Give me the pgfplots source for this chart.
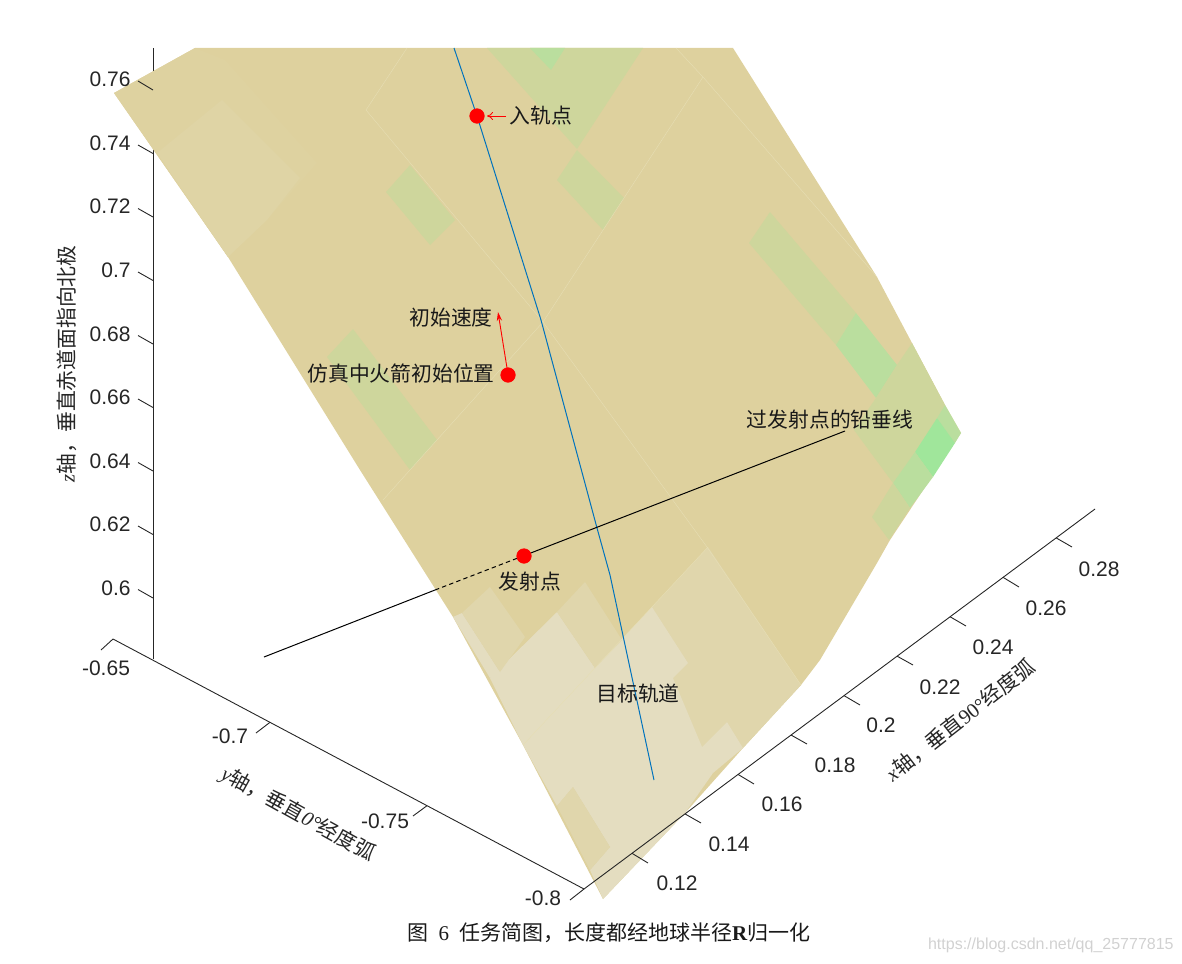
\documentclass[border=0pt]{standalone}
\usepackage{fontspec}
\usepackage{pgfplots}
\pgfplotsset{compat=1.18}
\usetikzlibrary{arrows.meta}
\setmainfont{Liberation Serif}
\newfontfamily\cjk{Noto Sans CJK SC}
\newfontfamily\hel{Liberation Sans}
\definecolor{base}{RGB}{222,209,158}
\definecolor{gA}{RGB}{206,214,156}
\definecolor{gB}{RGB}{186,222,158}
\definecolor{gC}{RGB}{160,230,155}
\definecolor{lA}{RGB}{228,221,192}
\definecolor{lB}{RGB}{224,214,172}
\definecolor{lC}{RGB}{222,210,160}
\definecolor{lD}{RGB}{223,212,165}
\definecolor{seam}{RGB}{231,223,182}
\definecolor{axc}{RGB}{38,38,38}
\definecolor{mblue}{RGB}{0,114,189}
\newcommand{\patch}[2]{\addplot[fill=#1,draw=none,mark=none,forget plot] coordinates {#2};}
\newcommand{\seam}[1]{\addplot[seam,line width=0.18pt,mark=none,forget plot] coordinates {#1};}
\newcommand{\tk}[1]{\addplot[axc,line width=0.45pt,mark=none,forget plot] coordinates {#1};}
\newcommand{\tl}[2]{\node[font=\hel\fontsize{10.5}{12}\selectfont,text=axc,inner sep=0pt] at (axis cs:#1) {#2};}
\newcommand{\zl}[2]{\node[font=\hel\fontsize{10.5}{12}\selectfont,text=axc,inner sep=0pt,anchor=east] at (axis cs:#1) {#2};}
\newcommand{\cn}[2]{\node[font=\cjk\fontsize{10.4}{12}\selectfont,text=black!90,inner sep=0pt] at (axis cs:#1) {#2};}
\newcommand{\lat}[1]{{\rmfamily\itshape #1}}
\begin{document}
\begin{tikzpicture}
\begin{axis}[
    hide axis,
    scale only axis,
    width=591pt, height=481.5pt,
    xmin=0, xmax=1182,
    ymin=0, ymax=963,
    y dir=reverse,
    clip=false,
]
% keeps the page at the full frame
\addplot[draw=none,mark=none,forget plot] coordinates {(0,0)(1182,963)};
% z axis sits behind the surface
\tk{(153,48)(153,659)}

% surface
\patch{base}{(195,48)(114,93)(228,257)(360,470)(453,617)(523,745)(603,899)(685,813)(743,748)(801,685)(820,660)(877,563)(890,540)(961,433)(945,405)(912,343)(877,277)(733,48)}
\patch{lC}{(114,93)(195,48)(225,60)(317,163)(267,220)(228,257)}
\patch{lD}{(157,153)(222,100)(300,178)(267,220)(228,257)}
% green cells
\patch{gA}{(410,165)(455,220)(430,245)(386,192)}
\patch{gA}{(353,329)(437,440)(410,470)(327,357)}
\patch{gA}{(487,48)(643,48)(577,149)}
\patch{gB}{(530,48)(565,48)(551,70)}
\patch{gA}{(577,150)(624,198)(603,230)(557,180)}
\patch{gA}{(770,212)(856,313)(836,345)(749,243)}
\patch{gB}{(856,313)(897,365)(876,398)(836,345)}
\patch{gA}{(912,343)(945,405)(915,452)(893,483)(854,430)(876,398)(897,365)}
\patch{gB}{(945,405)(961,433)(955,443)(937,418)}
\patch{gC}{(937,418)(955,443)(933,477)(915,452)}
\patch{gB}{(915,452)(933,477)(910,508)(893,483)}
\patch{gA}{(893,483)(910,508)(889,540)(872,517)}
% pale cells, lower part
\patch{lB}{(652,607)(708,547)(801,685)(743,748)(727,722)(697,752)(673,678)(688,663)}
\patch{lA}{(697,752)(727,722)(743,748)(713,773)}
\patch{lA}{(523,745)(652,607)(688,663)(673,678)(713,773)(685,813)(603,899)(590,870)(610,847)(573,787)(557,806)}
\patch{lB}{(573,787)(610,847)(590,870)(557,806)}
\patch{lA}{(557,612)(595,668)(523,745)(490,678)}
\patch{lA}{(453,617)(462,613)(500,672)(490,678)}
\patch{lB}{(462,613)(490,587)(525,637)(500,672)}
\patch{lB}{(557,612)(585,582)(622,640)(595,668)}
% seams
\seam{(407,48)(366,110)(543,322)(707,547)(801,685)}
\seam{(543,322)(703,77)(877,277)}
\seam{(676,48)(703,77)}
\seam{(543,322)(383,500)}
\seam{(708,547)(523,745)}

% y axis
\tk{(113,639)(584,889)}
\tk{(113,639)(101,650)}
\tk{(270,722.3)(256,733)}
\tk{(427,805.7)(413,816)}
\tk{(584,889)(570,900)}
% x axis
\tk{(584,889)(1095,509)}
\tk{(632,853.3)(648,863)}
\tk{(685,813.9)(701,823)}
\tk{(738,774.4)(754,784)}
\tk{(791,735)(807,744)}
\tk{(844,695.6)(860,705)}
\tk{(897,656.1)(913,665)}
\tk{(950,616.7)(966,626)}
\tk{(1003,577.3)(1019,587)}
\tk{(1056,537.8)(1072,547)}
% z ticks
\tk{(153,90)(138,81)}
\tk{(153,153.5)(138,145)}
\tk{(153,217)(138,208.5)}
\tk{(153,280.5)(138,272)}
\tk{(153,344)(138,335.5)}
\tk{(153,407.5)(138,399)}
\tk{(153,471)(138,462.5)}
\tk{(153,534.5)(138,526)}
\tk{(153,598)(138,589.5)}

% target orbit
\addplot[mblue,line width=0.5pt,mark=none,forget plot] coordinates {(454,48)(477,116)(541,320)(597,528)(610,575)(654,780)};
% plumb line through launch point
\addplot[black,line width=0.5pt,mark=none,forget plot] coordinates {(264,657)(435,590)};
\addplot[black,line width=0.5pt,mark=none,forget plot,dash pattern=on 2.2pt off 1.6pt] coordinates {(435,590)(523,556)};
\addplot[black,line width=0.5pt,mark=none,forget plot] coordinates {(523,556)(845,431)};
% velocity and insertion arrows
\addplot[red,line width=0.45pt,mark=none,forget plot,-{Stealth[length=4.5pt,width=2.6pt]}] coordinates {(507,368)(498,312)};
\addplot[red,line width=0.4pt,mark=none,forget plot,-{To[length=3pt,width=4pt]}] coordinates {(506,116)(487,116)};
% points
\addplot[only marks,mark=*,mark size=3.6pt,red,mark options={draw=red,fill=red},forget plot] coordinates {(477,116)(508,375)(524,556)};
\addplot[black,line width=0.5pt,mark=none,forget plot] coordinates {(520.5,557)(525,555.5)};

% tick labels
\zl{131,79}{0.76}
\zl{131,143}{0.74}
\zl{131,206}{0.72}
\zl{131,270}{0.7}
\zl{131,334}{0.68}
\zl{131,397}{0.66}
\zl{131,461}{0.64}
\zl{131,524}{0.62}
\zl{131,588}{0.6}
\tl{106,668}{-0.65}
\tl{230,736}{-0.7}
\tl{385,821}{-0.75}
\tl{543,898}{-0.8}
\tl{677,883}{0.12}
\tl{729,844}{0.14}
\tl{782,804}{0.16}
\tl{835,765}{0.18}
\tl{881,725}{0.2}
\tl{940,687}{0.22}
\tl{993,647}{0.24}
\tl{1046,608}{0.26}
\tl{1099,569}{0.28}

% annotations
\cn{541,116}{入轨点}
\cn{451,318}{初始速度}
\cn{401,374}{仿真中火箭初始位置}
\cn{530,582}{发射点}
\cn{638,694}{目标轨道}
\cn{830,420}{过发射点的铅垂线}

% axis labels
\node[font=\cjk\fontsize{10.4}{12}\selectfont,text=axc,inner sep=0pt,rotate=90] at (axis cs:67,364) {\lat{z}轴，垂直赤道面指向北极};
\node[font=\cjk\fontsize{10.3}{12}\selectfont,text=axc,inner sep=0pt,rotate=-29] at (axis cs:298,814) {\lat{y}轴，垂直\lat{0°}经度弧};
\node[font=\cjk\fontsize{10.3}{12}\selectfont,text=axc,inner sep=0pt,rotate=38] at (axis cs:960,720) {\lat{x}轴，垂直{\rmfamily 90°}经度弧};

% caption and watermark
\node[font=\cjk\fontsize{10.5}{12}\selectfont,text=black!90,inner sep=0pt] at (axis cs:609,933) {图\hspace{5pt}{\rmfamily 6}\hspace{5pt}任务简图，长度都经地球半径{\rmfamily\bfseries R}归一化};
\node[font=\hel\fontsize{8}{10}\selectfont,text=black!18,inner sep=0pt,anchor=east] at (axis cs:1174,945) {https://blog.csdn.net/qq\_25777815};
\end{axis}
\end{tikzpicture}
\end{document}
